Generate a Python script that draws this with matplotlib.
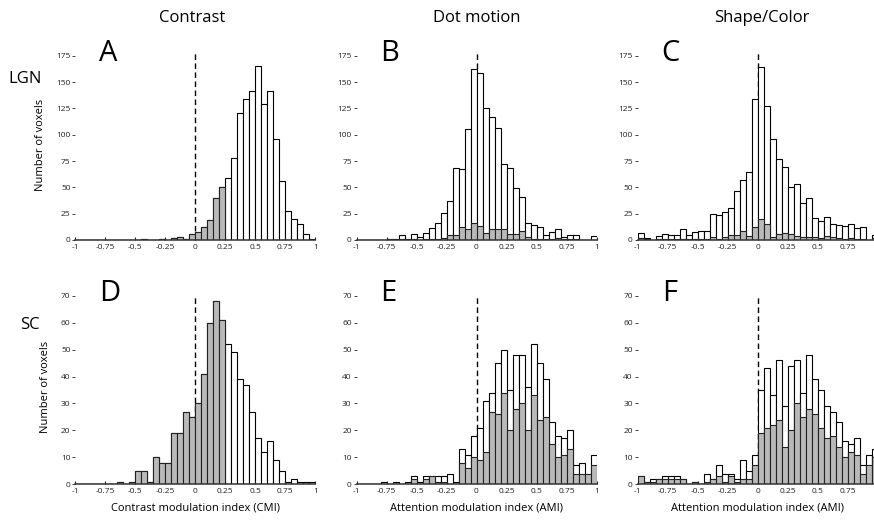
import numpy as np
import matplotlib
matplotlib.use("Agg")
import matplotlib.pyplot as plt

plt.rcParams['font.family'] = ['Open Sans', 'DejaVu Sans']

# Histogram bins: 40 bins of width 0.05 from -1 to 1
bin_edges = np.linspace(-1, 1, 41)

# LGN, contrast (A)
lgn_contrast_all = [0, 0, 0, 0, 0, 0, 0, 0, 0, 0, 0, 1, 0, 0, 1, 0, 2, 3, 1, 6,
                    8, 12, 19, 40, 50, 59, 78, 121, 134, 142, 165, 129, 142, 96, 56, 28, 20, 15, 6, 1]
lgn_contrast_ns = [0, 0, 0, 0, 0, 0, 0, 0, 0, 0, 0, 1, 0, 0, 1, 0, 2, 3, 1, 6,
                   8, 12, 19, 40, 50, 0, 0, 0, 0, 0, 0, 0, 0, 0, 0, 0, 0, 0, 0, 0]
# LGN, dot motion (B)
lgn_motion_all = [0, 0, 0, 0, 0, 1, 1, 5, 1, 6, 3, 7, 11, 16, 26, 37, 68, 67, 105, 162,
                  159, 125, 117, 106, 72, 68, 49, 41, 16, 14, 12, 5, 8, 10, 3, 5, 5, 0, 0, 4]
lgn_motion_ns = [0, 0, 0, 0, 0, 1, 0, 1, 0, 1, 0, 1, 1, 1, 2, 5, 5, 12, 10, 16,
                 13, 7, 10, 10, 10, 6, 6, 9, 3, 1, 1, 1, 1, 2, 1, 1, 1, 0, 0, 0]
# LGN, shape/color (C)
lgn_shape_all = [7, 2, 0, 4, 6, 5, 5, 10, 5, 8, 9, 9, 25, 24, 27, 30, 47, 57, 65, 134,
                 164, 127, 96, 77, 69, 50, 53, 35, 40, 21, 18, 22, 15, 14, 13, 15, 11, 12, 0, 5]
lgn_shape_ns = [2, 1, 0, 1, 1, 1, 1, 1, 1, 1, 1, 1, 3, 1, 3, 5, 5, 9, 4, 12,
                20, 15, 3, 6, 7, 6, 4, 3, 3, 3, 2, 4, 3, 2, 1, 2, 1, 1, 0, 2]
# SC, contrast (D)
sc_contrast_all = [0, 0, 0, 0, 0, 0, 0, 1, 0, 1, 5, 5, 1, 10, 8, 8, 19, 19, 27, 25,
                   30, 41, 60, 68, 61, 52, 49, 39, 37, 27, 17, 12, 16, 9, 5, 1, 2, 1, 1, 1]
sc_contrast_ns = [0, 0, 0, 0, 0, 0, 0, 1, 0, 1, 5, 5, 1, 10, 8, 8, 19, 19, 27, 25,
                  30, 41, 60, 68, 61, 0, 0, 0, 0, 0, 0, 0, 0, 0, 0, 0, 0, 0, 0, 0]
# SC, dot motion (E)
sc_motion_all = [0, 0, 0, 0, 1, 0, 1, 0, 1, 3, 1, 3, 3, 3, 3, 4, 1, 13, 11, 18,
                 21, 31, 34, 45, 50, 35, 48, 48, 36, 52, 45, 39, 23, 18, 17, 20, 7, 8, 4, 11]
sc_motion_ns = [0, 0, 0, 0, 0, 0, 0, 0, 0, 2, 0, 2, 3, 1, 1, 0, 0, 8, 6, 10,
                9, 12, 27, 26, 34, 20, 28, 30, 20, 33, 24, 25, 15, 10, 11, 13, 4, 4, 4, 7]
# SC, shape/color (F)
sc_shape_all = [3, 1, 2, 2, 3, 3, 3, 2, 0, 1, 0, 4, 2, 7, 4, 4, 2, 9, 5, 11,
                35, 43, 33, 46, 29, 44, 46, 34, 48, 39, 35, 29, 27, 23, 16, 15, 17, 7, 11, 13]
sc_shape_ns = [3, 1, 1, 2, 2, 2, 2, 2, 0, 1, 0, 1, 2, 3, 1, 3, 1, 2, 2, 7,
               19, 21, 22, 24, 14, 20, 30, 25, 28, 26, 21, 17, 18, 14, 10, 12, 11, 4, 7, 10]

x_ticks = [-1, -0.75, -0.5, -0.25, 0, 0.25, 0.5, 0.75, 1]
x_ticklabels = ['-1', '-0.75', '-0.5', '-0.25', '0', '0.25', '0.5', '0.75', '1']
lgn_yticks = [0, 25, 50, 75, 100, 125, 150, 175]
sc_yticks = [0, 10, 20, 30, 40, 50, 60, 70]

col_titles = ['Contrast', 'Dot motion', 'Shape/Color']
row_titles = ['LGN', 'SC']
x_labels = ['Contrast modulation index (CMI)', 'Attention modulation index (AMI)',
            'Attention modulation index (AMI)']

GRAY = '#b9b9b9'

fig = plt.figure(figsize=(8.74, 5.21), dpi=100)


def panel(rect, total, subset, ymax, dash_top, yticks, letter, ylabel=None, xlabel=None,
          last_label=True):
	ax = fig.add_axes(rect)
	ax.vlines(0, 0, dash_top, colors='black', linestyles=(0, (4, 2.5)), linewidth=1, zorder=0.5)
	ax.bar(bin_edges[:-1], total, width=0.05, align='edge', color='white',
	       edgecolor='black', linewidth=0.8, zorder=1)
	ax.bar(bin_edges[:-1], subset, width=0.05, align='edge', color=GRAY,
	       edgecolor='#222222', linewidth=0.8, zorder=2)
	ax.set_xlim(-1, 1)
	ax.set_ylim(0, ymax)
	ax.set_xticks(x_ticks)
	labels = list(x_ticklabels)
	if not last_label:
		labels[-1] = ''  # falls off the right edge of the figure
	ax.set_xticklabels(labels)
	ax.set_yticks(yticks)
	for s in ['top', 'right', 'left']:
		ax.spines[s].set_visible(False)
	ax.spines['bottom'].set_linewidth(1.1)
	ax.spines['bottom'].set_color('#333333')
	ax.tick_params(axis='x', direction='in', length=2.5, width=0.8, labelsize=6,
	               pad=3, colors='#222222')
	ax.tick_params(axis='y', direction='out', length=2, width=0.6, labelsize=6,
	               pad=1.5, colors='#222222')
	ax.patch.set_alpha(0)
	ax.text(0.1, 0.945, letter, transform=ax.transAxes, fontsize=21,
	        ha='left', va='baseline')
	if ylabel:
		ax.set_ylabel(ylabel, fontsize=8, labelpad=7)
	if xlabel:
		ax.set_xlabel(xlabel, fontsize=8, labelpad=5)
	return ax


col_x = [75.3 / 874, 356.5 / 874, 637.7 / 874]
w = 240 / 874
top_rect_y, top_h = 1 - 240 / 521, 189.5 / 521
bot_rect_y, bot_h = 1 - 484.3 / 521, 194 / 521

top_data = [(lgn_contrast_all, lgn_contrast_ns), (lgn_motion_all, lgn_motion_ns),
            (lgn_shape_all, lgn_shape_ns)]
bot_data = [(sc_contrast_all, sc_contrast_ns), (sc_motion_all, sc_motion_ns),
            (sc_shape_all, sc_shape_ns)]
top_letters = ['A', 'B', 'C']
bot_letters = ['D', 'E', 'F']

for i in range(3):
	panel([col_x[i], top_rect_y, w, top_h], top_data[i][0], top_data[i][1], 180, 178,
	      lgn_yticks, top_letters[i], ylabel='Number of voxels' if i == 0 else None,
	      last_label=(i < 2))
	panel([col_x[i], bot_rect_y, w, bot_h], bot_data[i][0], bot_data[i][1], 72, 69.5,
	      sc_yticks, bot_letters[i], ylabel='Number of voxels' if i == 0 else None,
	      xlabel=x_labels[i], last_label=(i < 2))

title_x = [192 / 874, 477 / 874, 762 / 874]
for i in range(3):
	fig.text(title_x[i], 1 - 18 / 521, col_titles[i], fontsize=12, ha='center', va='center')

fig.text(42 / 874, 1 - 79 / 521, row_titles[0], fontsize=12, ha='right', va='center')
fig.text(40 / 874, 1 - 325 / 521, row_titles[1], fontsize=12, ha='right', va='center')

fig.savefig('out.png', dpi=100)
